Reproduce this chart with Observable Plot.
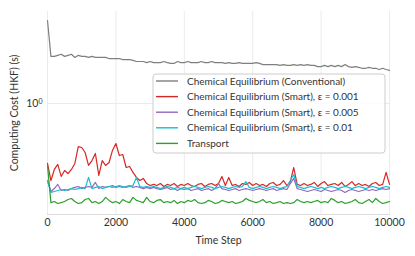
<!DOCTYPE html>
<html>
<head>
<meta charset="utf-8">
<script src="https://cdn.jsdelivr.net/npm/d3@7"></script>
<script src="https://cdn.jsdelivr.net/npm/@observablehq/plot@0.6"></script>
<style>
  html, body { margin: 0; padding: 0; background: #fff; }
  #chart { width: 415px; height: 256px; }
  svg { font-family: Lato, "Open Sans", sans-serif; }
</style>
</head>
<body>
<div id="chart"></div>
<script>
// ---- data ----
const steps = d3.range(0, 10001, 100);
const xTicks = [0, 2000, 4000, 6000, 8000, 10000];
const yTicks = [1];
const seriesNames = [
  "Chemical Equilibrium (Conventional)",
  "Chemical Equilibrium (Smart), ε = 0.001",
  "Chemical Equilibrium (Smart), ε = 0.005",
  "Chemical Equilibrium (Smart), ε = 0.01",
  "Transport"
];
const seriesColors = ["#7f7f7f", "#d62728", "#9467bd", "#17becf", "#2ca02c"];

const conventional = [3.30,
 1.97,1.97,2.00,2.03,1.97,2.00,2.03,1.94,2.00,1.97,
 1.97,1.94,1.97,1.94,1.94,1.94,1.94,1.91,1.91,1.91,
 1.91,1.88,1.88,1.88,1.86,1.83,1.83,1.83,1.80,1.83,
 1.80,1.80,1.80,1.83,1.80,1.78,1.78,1.83,1.80,1.80,
 1.83,1.80,1.80,1.80,1.83,1.80,1.80,1.83,1.80,1.80,
 1.80,1.78,1.80,1.78,1.78,1.80,1.78,1.78,1.78,1.78,
 1.80,1.78,1.75,1.75,1.75,1.75,1.75,1.73,1.75,1.73,
 1.73,1.75,1.73,1.75,1.73,1.75,1.73,1.73,1.70,1.70,
 1.73,1.70,1.73,1.70,1.73,1.70,1.75,1.70,1.68,1.70,
 1.68,1.66,1.66,1.68,1.66,1.66,1.63,1.66,1.63,1.61];

const smart001 = [
 0.422,0.330,0.387,0.416,0.350,0.381,0.365,0.387,0.422,0.538,
 0.531,0.494,0.410,0.440,0.487,0.355,0.440,0.410,0.428,0.509,
 0.562,0.473,0.480,0.398,0.404,0.371,0.345,0.330,0.340,0.316,
 0.307,0.312,0.307,0.316,0.303,0.312,0.307,0.316,0.303,0.312,
 0.307,0.316,0.307,0.303,0.312,0.316,0.303,0.312,0.316,0.307,
 0.316,0.350,0.307,0.345,0.307,0.312,0.303,0.316,0.312,0.321,
 0.307,0.316,0.307,0.312,0.303,0.316,0.321,0.307,0.312,0.330,
 0.307,0.325,0.398,0.312,0.307,0.316,0.307,0.312,0.321,0.303,
 0.316,0.325,0.307,0.312,0.316,0.307,0.321,0.303,0.312,0.325,
 0.307,0.316,0.307,0.312,0.303,0.316,0.321,0.307,0.312,0.371,
 0.312];

const smart005 = [
 0.330,0.282,0.294,0.312,0.286,0.290,0.286,0.294,0.299,0.303,
 0.294,0.299,0.303,0.299,0.321,0.294,0.303,0.299,0.303,0.307,
 0.299,0.303,0.299,0.303,0.307,0.299,0.303,0.299,0.294,0.299,
 0.294,0.299,0.294,0.290,0.294,0.299,0.290,0.294,0.286,0.294,
 0.290,0.294,0.286,0.290,0.294,0.286,0.290,0.294,0.286,0.294,
 0.316,0.294,0.290,0.286,0.290,0.294,0.286,0.290,0.294,0.290,
 0.286,0.290,0.294,0.290,0.286,0.290,0.294,0.286,0.290,0.294,
 0.290,0.316,0.340,0.294,0.290,0.286,0.282,0.286,0.290,0.286,
 0.282,0.290,0.286,0.282,0.286,0.290,0.286,0.278,0.286,0.290,
 0.286,0.282,0.286,0.290,0.286,0.290,0.286,0.290,0.294,0.290,
 0.294];

const smart01 = [
 0.330,0.278,0.282,0.286,0.290,0.286,0.290,0.294,0.290,0.294,
 0.299,0.294,0.345,0.294,0.299,0.303,0.294,0.299,0.303,0.299,
 0.303,0.307,0.303,0.299,0.303,0.307,0.345,0.303,0.299,0.303,
 0.299,0.303,0.299,0.294,0.299,0.303,0.299,0.294,0.299,0.294,
 0.299,0.294,0.299,0.303,0.299,0.294,0.299,0.303,0.299,0.294,
 0.299,0.303,0.299,0.294,0.299,0.303,0.299,0.303,0.325,0.299,
 0.294,0.299,0.303,0.299,0.294,0.299,0.303,0.299,0.294,0.299,
 0.303,0.330,0.360,0.303,0.299,0.294,0.299,0.303,0.299,0.294,
 0.299,0.294,0.299,0.303,0.299,0.294,0.299,0.303,0.299,0.294,
 0.299,0.303,0.299,0.294,0.299,0.303,0.299,0.294,0.299,0.303,
 0.299];

const transport = [
 0.410,0.240,0.244,0.237,0.240,0.244,0.251,0.255,0.244,0.237,
 0.240,0.251,0.255,0.240,0.244,0.237,0.244,0.259,0.248,0.240,
 0.244,0.237,0.251,0.244,0.240,0.259,0.248,0.244,0.240,0.259,
 0.244,0.240,0.248,0.251,0.240,0.244,0.240,0.248,0.237,0.244,
 0.240,0.248,0.244,0.251,0.240,0.237,0.240,0.248,0.244,0.237,
 0.240,0.248,0.244,0.240,0.244,0.237,0.240,0.244,0.255,0.248,
 0.244,0.240,0.244,0.251,0.240,0.244,0.237,0.240,0.244,0.237,
 0.240,0.237,0.240,0.251,0.244,0.240,0.244,0.240,0.244,0.248,
 0.240,0.244,0.240,0.255,0.248,0.240,0.244,0.237,0.240,0.244,
 0.251,0.240,0.237,0.244,0.251,0.240,0.255,0.244,0.237,0.240,
 0.244];

const allSeries = [conventional, smart001, smart005, smart01, transport];

// ---- build table ----
const rows = [];
allSeries.forEach((vals, si) => {
  vals.forEach((v, i) => rows.push({step: steps[i], cost: v, series: seriesNames[si]}));
});

const W = 415, H = 256;
const plot = Plot.plot({
  width: W,
  height: H,
  marginLeft: 47,
  marginRight: 26,
  marginTop: 11,
  marginBottom: 42,
  style: {fontSize: "10px", color: "#444", background: "#fff"},
  x: {domain: [0, 10000], ticks: xTicks, label: null},
  y: {type: "log", domain: [0.2024, 3.758], ticks: yTicks, label: null},
  color: {domain: seriesNames, range: seriesColors},
  marks: [
    Plot.gridX(xTicks, {stroke: "#ebebeb", strokeOpacity: 1}),
    Plot.gridY(yTicks, {stroke: "#ebebeb", strokeOpacity: 1}),
    Plot.frame({anchor: "bottom", stroke: "#dcdcdc"}),
    Plot.axisX(xTicks, {tickSize: 0, tickPadding: 4, fill: "#333", label: null, tickFormat: d => String(d), fontSize: 10.5}),
    Plot.axisY(yTicks, {tickSize: 0, tickPadding: 5, fill: "#333", label: null, tickFormat: () => "10", fontSize: 10.5}),
    Plot.line(rows, {x: "step", y: "cost", z: "series", stroke: "series", strokeWidth: 1.2, curve: "linear"}),
    Plot.text(["Time Step"], {frameAnchor: "bottom", dy: 26, text: d => d, fill: "#333", fontSize: 10.5,
      textAnchor: "middle", lineAnchor: "middle"}),
    Plot.text(["Computing Cost (HKF) (s)"], {frameAnchor: "left", dx: -33, rotate: -90, text: d => d, fill: "#333", fontSize: 10.5,
      textAnchor: "middle", lineAnchor: "middle"})
  ]
});
document.getElementById("chart").appendChild(plot);

// superscript exponent on the log tick
const svg = d3.select(plot);
svg.selectAll("g[aria-label='y-axis tick label'] text").each(function() {
  const t = d3.select(this);
  t.append("tspan").attr("dy", "-0.45em").attr("font-size", "7px").text("0");
});

// ---- legend overlay ----
const lg = svg.append("g").attr("class", "legend").attr("text-anchor", "start");
const lx = 153, ly = 74, lw = 232, lh = 79;
lg.append("rect").attr("x", lx).attr("y", ly).attr("width", lw).attr("height", lh)
  .attr("rx", 3).attr("fill", "#fff").attr("fill-opacity", 0.85)
  .attr("stroke", "#cccccc").attr("stroke-width", 1);
seriesNames.forEach((name, i) => {
  const yy = 81 + i * 15.6;
  lg.append("line").attr("x1", 156).attr("x2", 178).attr("y1", yy).attr("y2", yy)
    .attr("stroke", seriesColors[i]).attr("stroke-width", 1.4);
  lg.append("text").attr("x", 187).attr("y", yy).attr("dy", "0.35em")
    .attr("text-anchor", "start").attr("font-size", 10).attr("fill", "#333").text(name);
});
</script>
</body>
</html>
